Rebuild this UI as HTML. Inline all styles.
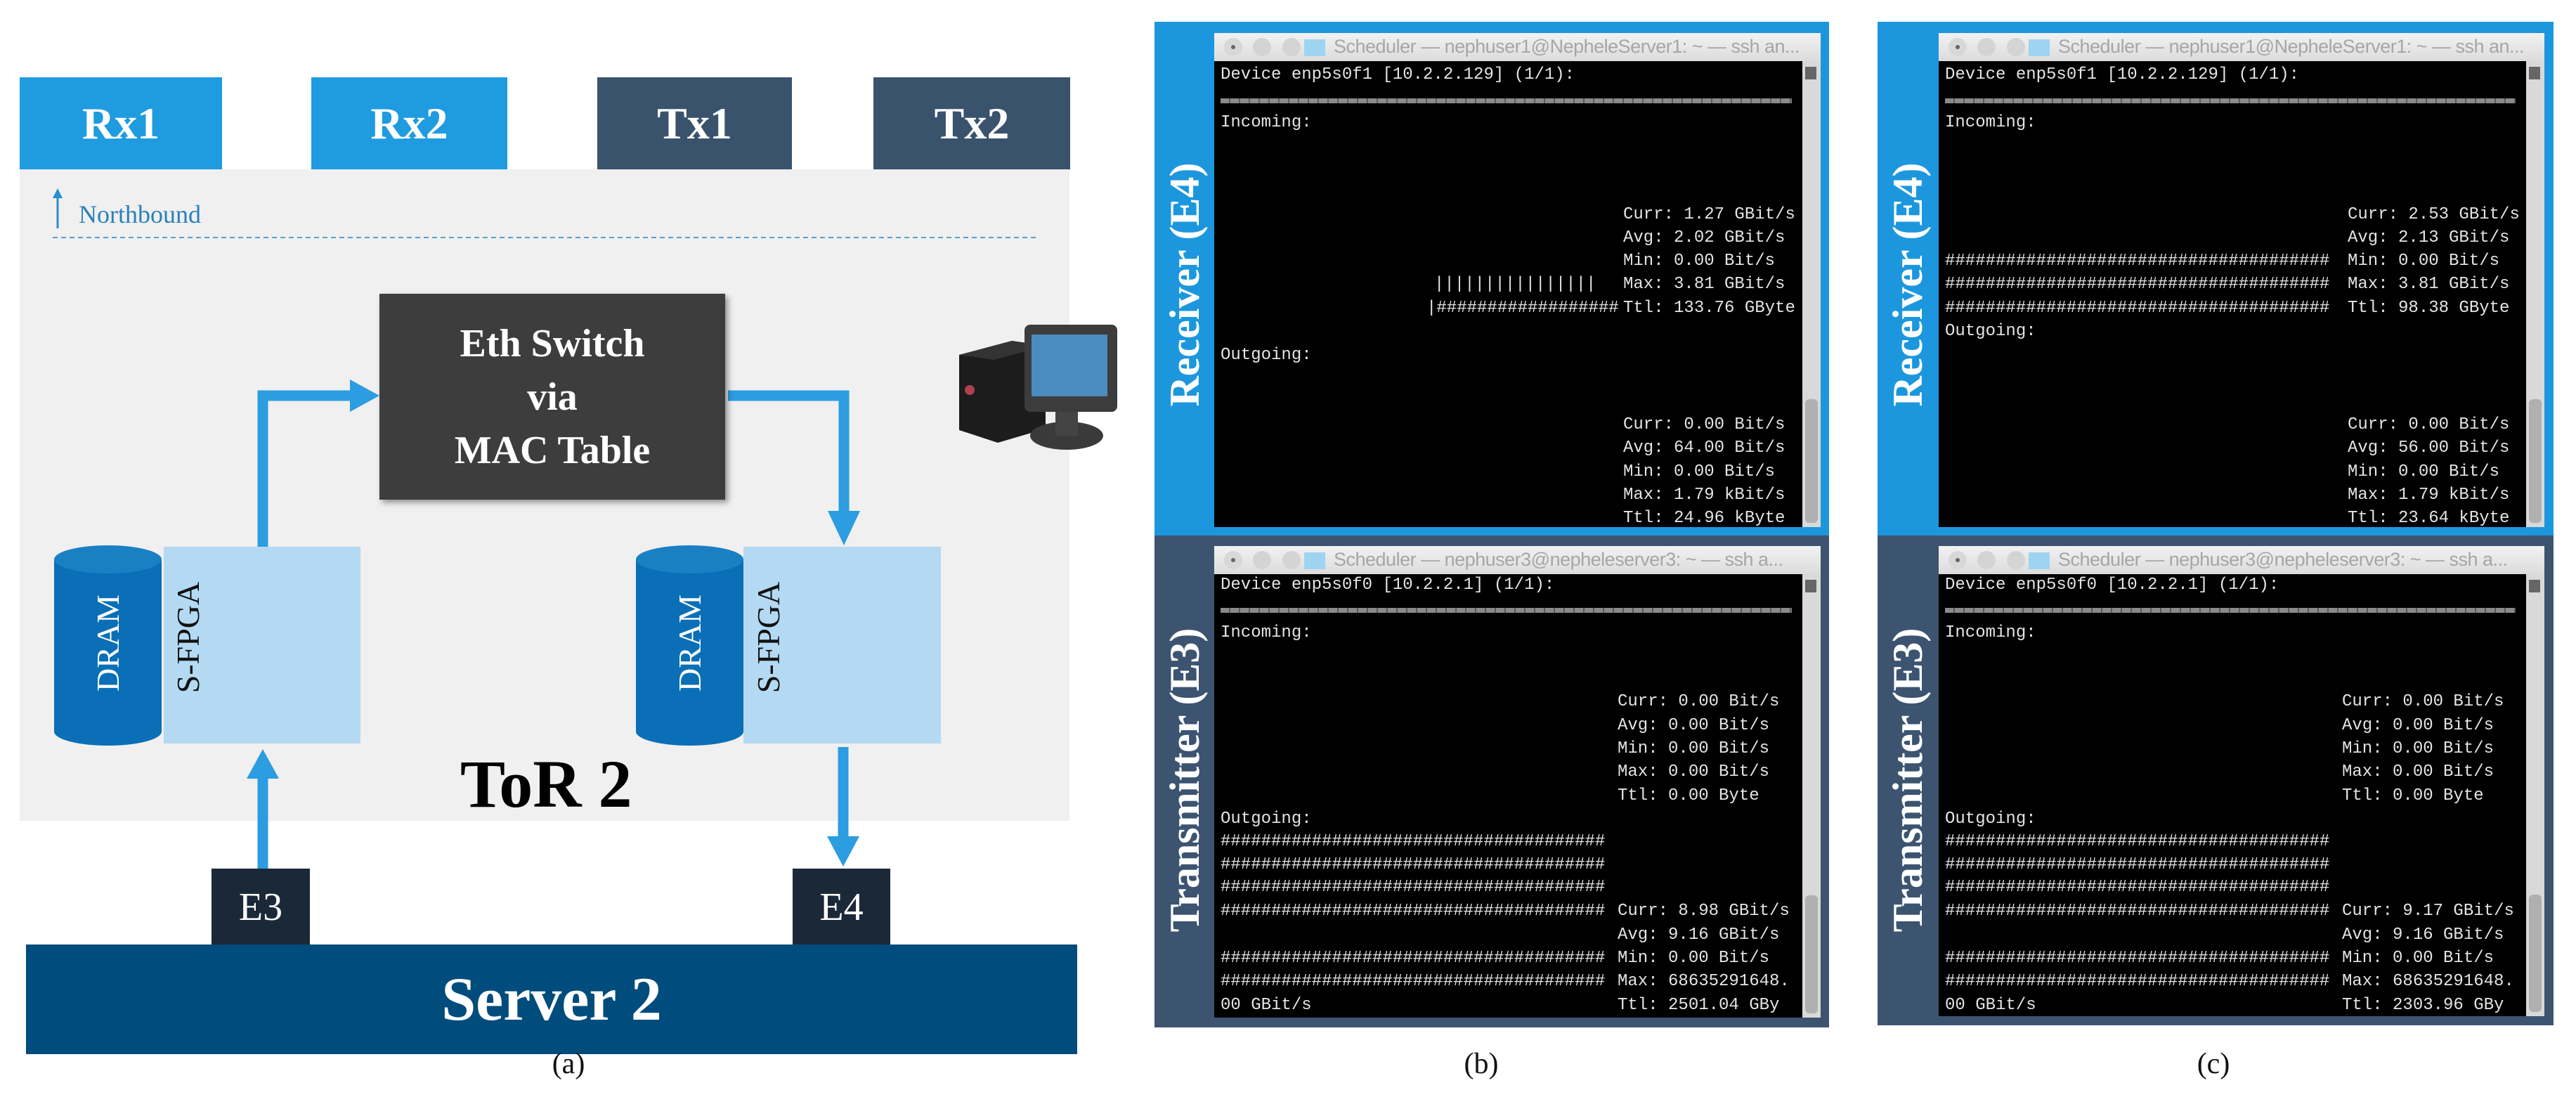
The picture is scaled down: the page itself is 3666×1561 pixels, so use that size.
<!DOCTYPE html>
<html><head><meta charset="utf-8">
<style>
*{margin:0;padding:0;box-sizing:border-box}
body{width:3666px;height:1561px;background:#fff;position:relative;overflow:hidden;font-family:"Liberation Serif",serif}
.a{position:absolute}
.c{display:flex;align-items:center;justify-content:center}
.port{color:#fff;font-weight:bold;font-size:64px}
.t{position:absolute;font-family:"Liberation Mono",monospace;font-size:24px;line-height:28px;color:#e4e4e4;white-space:pre}
.tb{position:absolute;background:linear-gradient(#f2f2f2,#dcdcdc);overflow:hidden}
.dot{position:absolute;width:26px;height:26px;border-radius:50%;background:#d4d4d4;top:7px}
.ttl{position:absolute;font-family:"Liberation Sans",sans-serif;font-size:27px;color:#a6a6a6;white-space:nowrap;top:4px;letter-spacing:-0.5px}
.term{position:absolute;background:#000}
.dash{position:absolute;height:7px;background:repeating-linear-gradient(90deg,#8a8a8a 0 12px,#5a5a5a 12px 14px)}
.sb{position:absolute;background:#d9d9d9}
.rot{position:absolute;transform:rotate(-90deg);transform-origin:center;white-space:nowrap;color:#fff;font-weight:bold;font-size:60px;text-align:center}
.cap{position:absolute;font-size:42px;color:#111;width:100px;text-align:center}
</style></head><body>

<!-- Panel (a) -->
<div class="a c port" style="left:28px;top:110px;width:288px;height:131px;background:#1f9be0">Rx1</div>
<div class="a c port" style="left:443px;top:110px;width:279px;height:131px;background:#1f9be0">Rx2</div>
<div class="a c port" style="left:850px;top:110px;width:277px;height:131px;background:#3a536d">Tx1</div>
<div class="a c port" style="left:1243px;top:110px;width:280px;height:131px;background:#3a536d">Tx2</div>
<div class="a" style="left:28px;top:241px;width:1494px;height:927px;background:#f0f0f0"></div>
<svg class="a" style="left:0;top:0" width="1640" height="1561">
  <line x1="82" y1="325" x2="82" y2="278" stroke="#2a8ed0" stroke-width="3"/>
  <polygon points="75,282 82,268 89,282" fill="#2a8ed0"/>
  <line x1="75" y1="338" x2="1475" y2="338" stroke="#5a9fd0" stroke-width="2" stroke-dasharray="7,5"/>
  <polyline points="374,778 374,563 500,563" fill="none" stroke="#2b9de0" stroke-width="15"/>
  <polygon points="498,540 540,563 498,586" fill="#2b9de0"/>
  <polyline points="1036,563 1201,563 1201,730" fill="none" stroke="#2b9de0" stroke-width="15"/>
  <polygon points="1178,727 1201,776 1224,727" fill="#2b9de0"/>
  <line x1="374" y1="1237" x2="374" y2="1105" stroke="#2b9de0" stroke-width="15"/>
  <polygon points="351,1108 374,1066 397,1108" fill="#2b9de0"/>
  <line x1="1200" y1="1063" x2="1200" y2="1195" stroke="#2b9de0" stroke-width="15"/>
  <polygon points="1177,1190 1200,1233 1223,1190" fill="#2b9de0"/>
  <rect x="77" y="796" width="153" height="245" fill="#0a6fb6"/>
  <ellipse cx="153.5" cy="1041" rx="76.5" ry="20" fill="#0a6fb6"/>
  <ellipse cx="153.5" cy="796" rx="76.5" ry="20" fill="#1a80c4"/>
  <rect x="905" y="796" width="153" height="245" fill="#0a6fb6"/>
  <ellipse cx="981.5" cy="1041" rx="76.5" ry="20" fill="#0a6fb6"/>
  <ellipse cx="981.5" cy="796" rx="76.5" ry="20" fill="#1a80c4"/>
  <polygon points="1365,505 1440,485 1488,492 1488,610 1420,630 1365,612" fill="#1c1c1c"/>
  <polygon points="1365,505 1440,485 1488,492 1415,512" fill="#333"/>
  <circle cx="1380" cy="555" r="7" fill="#b04050"/>
  <ellipse cx="1518" cy="620" rx="52" ry="20" fill="#3a3a3a"/>
  <rect x="1502" y="580" width="32" height="40" fill="#444"/>
  <rect x="1458" y="462" width="132" height="124" rx="8" fill="#3c3c3c"/>
  <rect x="1468" y="476" width="108" height="88" fill="#4a8cc0"/>
</svg>
<div class="a c" style="left:540px;top:418px;width:492px;height:293px;background:#3d3d3d;box-shadow:4px 4px 8px rgba(0,0,0,.4);color:#fff;font-weight:bold;font-size:56px;line-height:76px;text-align:center;flex-direction:column">Eth Switch<br>via<br>MAC Table</div>
<div class="a" style="left:233px;top:778px;width:280px;height:280px;background:#b4d9f2"></div>
<div class="a" style="left:1058px;top:778px;width:281px;height:280px;background:#b4d9f2"></div>
<div class="rot" style="left:54px;top:890px;width:200px;height:50px;font-weight:normal;font-size:46px;line-height:50px">DRAM</div>
<div class="rot" style="left:882px;top:890px;width:200px;height:50px;font-weight:normal;font-size:46px;line-height:50px">DRAM</div>
<div class="rot" style="left:168px;top:882px;width:200px;height:50px;font-weight:normal;font-size:46px;line-height:50px;color:#111">S-FPGA</div>
<div class="rot" style="left:994px;top:882px;width:200px;height:50px;font-weight:normal;font-size:46px;line-height:50px;color:#111">S-FPGA</div>
<div class="a" style="left:655px;top:1060px;font-weight:bold;font-size:96px;color:#000;white-space:nowrap">ToR 2</div>
<div class="a c" style="left:301px;top:1236px;width:140px;height:109px;background:#1b2838;color:#fff;font-size:56px">E3</div>
<div class="a c" style="left:1128px;top:1236px;width:139px;height:109px;background:#1b2838;color:#fff;font-size:56px">E4</div>
<div class="a c" style="left:37px;top:1344px;width:1496px;height:156px;background:#004c7c;color:#fff;font-weight:bold;font-size:88px">Server 2</div>
<div class="a" style="left:112px;top:284px;font-size:36px;color:#2a80bd">Northbound</div>
<div class="cap" style="left:759px;top:1490px">(a)</div>

<!-- Panel (b) -->
<div class="a" style="left:1643px;top:31px;width:960px;height:731px;background:#1c97dd"></div>
<div class="a" style="left:1643px;top:762px;width:960px;height:700px;background:#3c5470"></div>
<div class="rot" style="left:1386px;top:370px;width:600px;height:70px;line-height:70px">Receiver (E4)</div>
<div class="rot" style="left:1386px;top:1075px;width:600px;height:70px;line-height:70px">Transmitter (E3)</div>

<!-- Panel (c) -->
<div class="a" style="left:2672px;top:31px;width:962px;height:731px;background:#1c97dd"></div>
<div class="a" style="left:2672px;top:762px;width:962px;height:697px;background:#3c5470"></div>
<div class="rot" style="left:2415px;top:370px;width:600px;height:70px;line-height:70px">Receiver (E4)</div>
<div class="rot" style="left:2415px;top:1075px;width:600px;height:70px;line-height:70px">Transmitter (E3)</div>

<div id="terms"></div>
<div class="cap" style="left:2058px;top:1490px">(b)</div>
<div class="cap" style="left:3100px;top:1490px">(c)</div>

<script>
(function(){
var H="######################################";
function win(L,T,R,B,title,lines,dy){
  var h='';
  h+='<div class="tb" style="left:'+L+'px;top:'+T+'px;width:'+(R-L)+'px;height:40px">'+
     '<div class="dot" style="left:14px;background:#d8d8d8"><div style="position:absolute;left:10px;top:10px;width:6px;height:6px;border-radius:50%;background:#666"></div></div>'+
     '<div class="dot" style="left:55px"></div><div class="dot" style="left:97px"></div>'+
     '<div style="position:absolute;left:128px;top:9px;width:30px;height:24px;background:#9fd3f2"></div>'+
     '<div class="ttl" style="left:170px">'+title+'</div></div>';
  h+='<div class="term" style="left:'+L+'px;top:'+(T+40)+'px;width:'+(R-L-26)+'px;height:'+(B-T-40)+'px"></div>';
  h+='<div class="sb" style="left:'+(R-26)+'px;top:'+(T+40)+'px;width:26px;height:'+(B-T-40)+'px"><div style="position:absolute;left:4px;top:8px;width:16px;height:18px;background:#666"></div><div style="position:absolute;left:4px;bottom:6px;width:18px;height:'+Math.round((B-T)*0.25)+'px;background:#b0b0b0;border-radius:6px"></div></div>';
  h+='<div class="dash" style="left:'+(L+9)+'px;top:'+(T+dy)+'px;width:'+(R-L-50)+'px"></div>';
  lines.forEach(function(l){h+='<div class="t" style="left:'+(L+l[0])+'px;top:'+(l[1]-14)+'px">'+l[2]+'</div>';});
  return h;
}
var out='';
function rec(L,T,R,B,s,alt){
  var sx=L+582, Ls=[];
  Ls.push([9,T+60,'Device enp5s0f1 [10.2.2.129] (1/1):']);
  Ls.push([9,T+128,'Incoming:']);
  Ls.push([sx-L,T+259,'Curr: '+s[0]]);Ls.push([sx-L,T+292,'Avg: '+s[1]]);Ls.push([sx-L,T+325,'Min: 0.00 Bit/s']);
  Ls.push([sx-L,T+358,'Max: 3.81 GBit/s']);Ls.push([sx-L,T+392,'Ttl: '+s[2]]);
  if(!alt){Ls.push([313,T+358,'||||||||||||||||']);Ls.push([302,T+392,'|##################']);Ls.push([9,T+459,'Outgoing:']);}
  else{Ls.push([9,T+325,H]);Ls.push([9,T+358,H]);Ls.push([9,T+392,H]);Ls.push([9,T+425,'Outgoing:']);}
  Ls.push([sx-L,T+558,'Curr: 0.00 Bit/s']);Ls.push([sx-L,T+591,'Avg: '+s[3]]);Ls.push([sx-L,T+625,'Min: 0.00 Bit/s']);
  Ls.push([sx-L,T+658,'Max: 1.79 kBit/s']);Ls.push([sx-L,T+691,'Ttl: '+s[4]]);
  return win(L,T,R,B,'Scheduler — nephuser1@NepheleServer1: ~ — ssh an...',Ls,93);
}
function tx(L,T,R,B,s){
  var sx=574, Ls=[];
  Ls.push([9,T+56,'Device enp5s0f0 [10.2.2.1] (1/1):']);
  Ls.push([9,T+124,'Incoming:']);
  Ls.push([sx,T+222,'Curr: 0.00 Bit/s']);Ls.push([sx,T+256,'Avg: 0.00 Bit/s']);Ls.push([sx,T+289,'Min: 0.00 Bit/s']);
  Ls.push([sx,T+322,'Max: 0.00 Bit/s']);Ls.push([sx,T+356,'Ttl: 0.00 Byte']);
  Ls.push([9,T+389,'Outgoing:']);
  Ls.push([9,T+421,H]);Ls.push([9,T+454,H]);Ls.push([9,T+486,H]);Ls.push([9,T+520,H]);
  Ls.push([sx,T+520,'Curr: '+s[0]]);Ls.push([sx,T+554,'Avg: 9.16 GBit/s']);
  Ls.push([9,T+587,H]);Ls.push([sx,T+587,'Min: 0.00 Bit/s']);
  Ls.push([9,T+620,H]);Ls.push([sx,T+620,'Max: 68635291648.']);
  Ls.push([9,T+654,'00 GBit/s']);Ls.push([sx,T+654,'Ttl: '+s[1]]);
  return win(L,T,R,B,'Scheduler — nephuser3@nepheleserver3: ~ — ssh a...',Ls,88);
}
out+=rec(1728,47,2591,750,['1.27 GBit/s','2.02 GBit/s','133.76 GByte','64.00 Bit/s','24.96 kByte'],false);
out+=tx(1728,777,2591,1448,['8.98 GBit/s','2501.04 GBy']);
out+=rec(2759,47,3621,750,['2.53 GBit/s','2.13 GBit/s','98.38 GByte','56.00 Bit/s','23.64 kByte'],true);
out+=tx(2759,777,3621,1446,['9.17 GBit/s','2303.96 GBy']);
document.getElementById('terms').innerHTML=out;
})();
</script>
</body></html>
